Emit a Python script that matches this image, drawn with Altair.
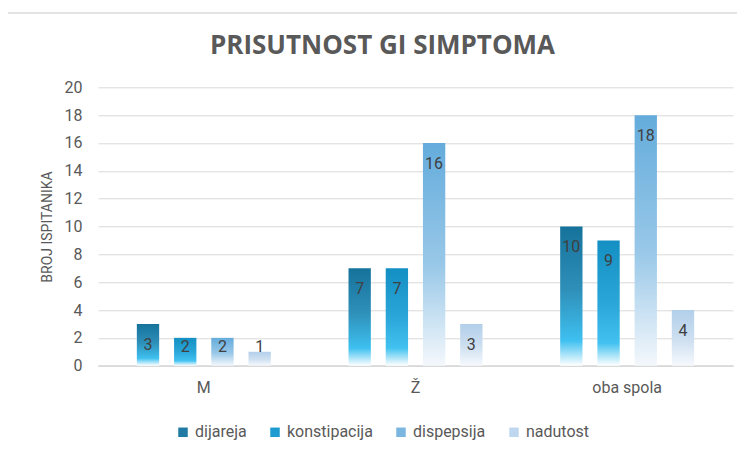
import altair as alt
import pandas as pd

categories = ["M", "Ž", "oba spola"]
series = ["dijareja", "konstipacija", "dispepsija", "nadutost"]
dijareja = [3, 7, 10]
konstipacija = [2, 7, 9]
dispepsija = [2, 16, 18]
nadutost = [1, 3, 4]
y_ticks = [0, 2, 4, 6, 8, 10, 12, 14, 16, 18, 20]

rows = []
for s, vals in zip(series, [dijareja, konstipacija, dispepsija, nadutost]):
    for c, v in zip(categories, vals):
        rows.append({"kat": c, "simptom": s, "broj": v})
df = pd.DataFrame(rows)

gradients = {
    "dijareja": [(0, "#15729b"), (0.45, "#2e8fb8"), (0.82, "#3ec0f0"), (1, "#ffffff")],
    "konstipacija": [(0, "#138fc3"), (0.5, "#2aa6d8"), (0.82, "#42c2f0"), (1, "#ffffff")],
    "dispepsija": [(0, "#64acdc"), (0.55, "#99c8e8"), (1, "#f4f8fc")],
    "nadutost": [(0, "#b2cfea"), (0.55, "#cfe0f1"), (1, "#f6f9fd")],
}
legend_colors = ["#1f7ba3", "#1c9bd0", "#7ab6e0", "#bfd7ee"]

FONT = "Roboto"
GREY = "#595959"

x = alt.X(
    "kat:N",
    sort=categories,
    scale=alt.Scale(domain=categories, paddingInner=0.367, paddingOuter=0.1835),
    axis=alt.Axis(
        title=None, labelAngle=0, labelFont=FONT, labelFontSize=16, labelColor=GREY,
        ticks=False, labelPadding=14, domainColor="#d9d9d9", domainWidth=1.5,
    ),
)
xoff = alt.XOffset(
    "simptom:N", sort=series,
    scale=alt.Scale(domain=series, paddingInner=0.4, paddingOuter=0),
)
y_scale = alt.Scale(domain=[0, 20])
y_axis = alt.Axis(
    values=y_ticks, title="BROJ ISPITANIKA", titleFont=FONT, titleFontSize=14,
    titleFontWeight="normal", titleColor=GREY, titlePadding=10,
    labelFont=FONT, labelFontSize=16, labelColor=GREY, labelPadding=16,
    ticks=False, domain=False, gridColor="#d9d9d9", gridWidth=1,
)
y = alt.Y("broj:Q", scale=y_scale, axis=y_axis)

base = alt.Chart(df)

legend_layer = base.mark_bar(opacity=0).encode(
    x=x, xOffset=xoff, y=y,
    color=alt.Color(
        "simptom:N", sort=series,
        scale=alt.Scale(domain=series, range=legend_colors),
        legend=alt.Legend(
            title=None, orient="none", direction="horizontal", legendX=77, legendY=337,
            symbolType="square", symbolSize=90, symbolOpacity=1, symbolStrokeWidth=0,
            labelFont=FONT, labelFontSize=16, labelColor=GREY, columnPadding=20,
            labelOffset=4,
        ),
    ),
)

layers = [legend_layer]
for s in series:
    grad = alt.Gradient(
        gradient="linear",
        stops=[alt.GradientStop(offset=o, color=c) for o, c in gradients[s]],
        x1=0, x2=0, y1=0, y2=1,
    )
    layers.append(
        base.transform_filter(alt.datum.simptom == s)
        .mark_bar(color=grad)
        .encode(x=x, xOffset=xoff, y=y)
    )

labels = base.transform_calculate(
    ly="max(datum.broj - 1.5, 1.36)"
).mark_text(font=FONT, fontSize=16, color="#404040", baseline="middle").encode(
    x=x, xOffset=xoff, y=alt.Y("ly:Q", scale=y_scale, axis=y_axis), text=alt.Text("broj:Q")
)
layers.append(labels)

frame_df = pd.DataFrame({"f": [0]})
frame_top = alt.Chart(frame_df).mark_rule(color="#e3e3e3", strokeWidth=2).encode(
    x=alt.value(-91), x2=alt.value(660), y=alt.value(-74.3)
)
frame_left = alt.Chart(frame_df).mark_rule(color="#e3e3e3", strokeWidth=2).encode(
    x=alt.value(-91), y=alt.value(-75.3), y2=alt.value(370)
)
layers += [frame_top, frame_left]

chart = alt.layer(*layers).properties(
    width=635,
    height=278.4,
    title=alt.Title(
        "PRISUTNOST GI SIMPTOMA", font="Open Sans", fontSize=26, fontWeight="bold",
        color=GREY, anchor="middle", frame="bounds", offset=-48,
    ),
    autosize=alt.AutoSizeParams(type="none"),
    padding={"left": 90, "top": 79.3, "right": 4, "bottom": 80},
).configure_view(stroke=None)

chart.save("out.html", embed_options={"renderer": "svg", "actions": False})
